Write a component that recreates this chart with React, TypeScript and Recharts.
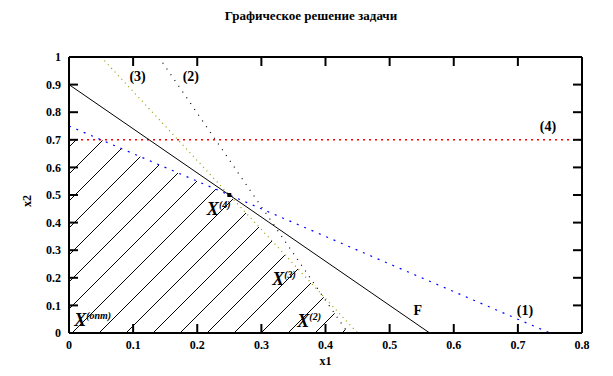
import React from "react";
import {
  ComposedChart,
  Line,
  Area,
  Scatter,
  XAxis,
  YAxis,
} from "recharts";

const xTicks = [0, 0.1, 0.2, 0.3, 0.4, 0.5, 0.6, 0.7, 0.8];
const yTicks = [0, 0.1, 0.2, 0.3, 0.4, 0.5, 0.6, 0.7, 0.8, 0.9, 1];

// constraint lines
const line1 = [
  { x: 0, y: 0.75 },
  { x: 0.75, y: 0 },
];
const line2 = [
  { x: 0.14, y: 1 },
  { x: 0.435, y: 0 },
];
const line3 = [
  { x: 0.05, y: 1 },
  { x: 0.45, y: 0 },
];
const line4 = [
  { x: 0, y: 0.7 },
  { x: 0.8, y: 0.7 },
];
const lineF = [
  { x: 0, y: 0.9 },
  { x: 0.5625, y: 0 },
];

// feasible region border
const region = [
  { x: 0, y: 0.7 },
  { x: 0.05, y: 0.7 },
  { x: 0.25, y: 0.5 },
  { x: 0.393, y: 0.143 },
  { x: 0.435, y: 0 },
];

const optimum = [{ x: 0.25, y: 0.5 }];

const lineLabels = [
  { x: 0.107, y: 0.928, text: "(3)" },
  { x: 0.19, y: 0.928, text: "(2)" },
  { x: 0.747, y: 0.75, text: "(4)" },
  { x: 0.711, y: 0.083, text: "(1)" },
  { x: 0.544, y: 0.083, text: "F" },
];

const pointLabels = [
  { x: 0.008, y: 0.025, sup: "(опт)" },
  { x: 0.215, y: 0.428, sup: "(4)" },
  { x: 0.317, y: 0.174, sup: "(3)" },
  { x: 0.356, y: 0.022, sup: "(2)" },
];

const serif = "'Liberation Serif', 'Times New Roman', serif";
const tickStyle = { fill: "#000", fontSize: 12, fontWeight: "bold", fontFamily: serif };
const axisStroke = { stroke: "#000", strokeWidth: 2 };

const LineLabel = (props: any) => {
  const { cx, cy, payload } = props;
  return (
    <text
      x={cx}
      y={cy}
      textAnchor="middle"
      dominantBaseline="central"
      fontFamily={serif}
      fontWeight="bold"
      fontSize={14}
      fill="#000"
    >
      {payload.text}
    </text>
  );
};

const PointLabel = (props: any) => {
  const { cx, cy, payload } = props;
  return (
    <text x={cx} y={cy} fontFamily={serif} fontWeight="bold" fontStyle="italic" fill="#000">
      <tspan fontSize={18}>X</tspan>
      <tspan fontSize={10} dy={-7}>
        {payload.sup}
      </tspan>
    </text>
  );
};

const OptDot = (props: any) => {
  const { cx, cy } = props;
  return <rect x={cx - 2} y={cy - 2} width={4} height={4} fill="#000" />;
};

export default function App() {
  return (
    <div style={{ position: "absolute", left: 0, top: 0, width: 613, height: 376, background: "#fff" }}>
      <div
        style={{
          position: "absolute",
          left: 0,
          top: 8,
          width: 622,
          textAlign: "center",
          fontFamily: serif,
          fontWeight: "bold",
          fontSize: 13,
        }}
      >
        Графическое решение задачи
      </div>
      <ComposedChart
        width={613}
        height={376}
        margin={{ top: 56, right: 30, bottom: 23, left: 29 }}
      >
        <defs>
          <pattern id="hatch" patternUnits="userSpaceOnUse" width={27} height={27}>
            <line x1={0} y1={27} x2={27} y2={0} stroke="#000" strokeWidth={1} />
          </pattern>
        </defs>
        <XAxis
          xAxisId="b"
          type="number"
          dataKey="x"
          domain={[0, 0.8]}
          ticks={xTicks}
          interval={0}
          height={20}
          tickSize={-9}
          tickMargin={16}
          axisLine={axisStroke}
          tickLine={axisStroke}
          tick={tickStyle}
          allowDataOverflow
          label={{ value: "x1", position: "bottom", offset: 3, fill: "#000", fontSize: 12, fontWeight: "bold", fontFamily: serif }}
        />
        <XAxis
          xAxisId="t"
          orientation="top"
          type="number"
          dataKey="x"
          domain={[0, 0.8]}
          ticks={xTicks}
          interval={0}
          height={1}
          tickSize={-9}
          tickMargin={0}
          axisLine={axisStroke}
          tickLine={axisStroke}
          tick={tickStyle}
          tickFormatter={() => ""}
          allowDataOverflow
        />
        <YAxis
          yAxisId="l"
          type="number"
          dataKey="y"
          domain={[0, 1]}
          ticks={yTicks}
          interval={0}
          width={40}
          tickSize={-9}
          tickMargin={17}
          axisLine={axisStroke}
          tickLine={axisStroke}
          tick={tickStyle}
          allowDataOverflow
          label={{ value: "x2", angle: -90, position: "left", offset: 2, fill: "#000", fontSize: 12, fontWeight: "bold", fontFamily: serif }}
        />
        <YAxis
          yAxisId="r"
          orientation="right"
          type="number"
          dataKey="y"
          domain={[0, 1]}
          ticks={yTicks}
          interval={0}
          width={1}
          tickSize={-9}
          tickMargin={0}
          axisLine={axisStroke}
          tickLine={axisStroke}
          tick={tickStyle}
          tickFormatter={() => ""}
          allowDataOverflow
        />
        <Line xAxisId="t" yAxisId="r" data={line4} dataKey="y" stroke="none" dot={false} legendType="none" isAnimationActive={false} />
        <Area
          xAxisId="b"
          yAxisId="l"
          data={region}
          dataKey="y"
          type="linear"
          stroke="none"
          fill="url(#hatch)"
          fillOpacity={1}
          baseValue={0}
          isAnimationActive={false}
        />
        <Line xAxisId="b" yAxisId="l" data={line4} dataKey="y" stroke="#ff0000" strokeWidth={1.5} strokeDasharray="2 4" dot={false} isAnimationActive={false} />
        <Line xAxisId="b" yAxisId="l" data={line1} dataKey="y" stroke="#0000ff" strokeWidth={1.2} strokeDasharray="2 6" dot={false} isAnimationActive={false} />
        <Line xAxisId="b" yAxisId="l" data={line3} dataKey="y" stroke="#999900" strokeWidth={1.2} strokeDasharray="1 4" dot={false} isAnimationActive={false} />
        <Line xAxisId="b" yAxisId="l" data={line2} dataKey="y" stroke="#000" strokeWidth={1.2} strokeDasharray="1 6" dot={false} isAnimationActive={false} />
        <Line xAxisId="b" yAxisId="l" data={lineF} dataKey="y" stroke="#000" strokeWidth={1} dot={false} isAnimationActive={false} />
        <Scatter xAxisId="b" yAxisId="l" data={optimum} dataKey="y" shape={OptDot} isAnimationActive={false} />
        <Scatter xAxisId="b" yAxisId="l" data={lineLabels} dataKey="y" shape={LineLabel} isAnimationActive={false} />
        <Scatter xAxisId="b" yAxisId="l" data={pointLabels} dataKey="y" shape={PointLabel} isAnimationActive={false} />
      </ComposedChart>
    </div>
  );
}
